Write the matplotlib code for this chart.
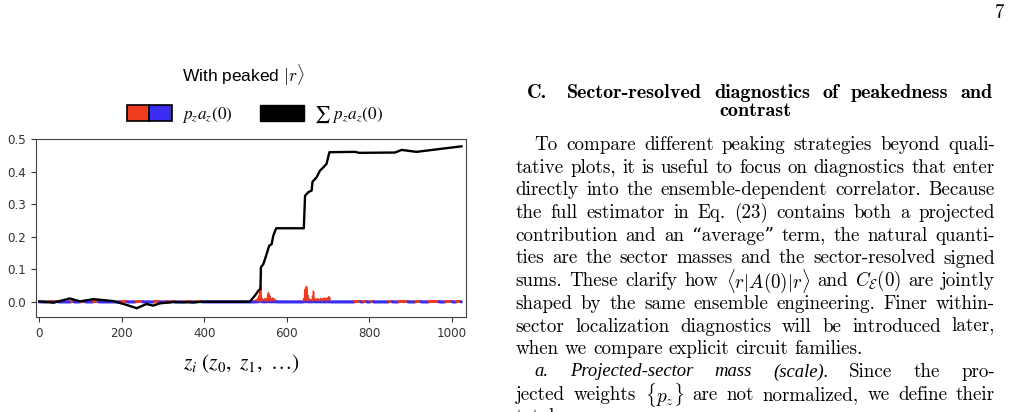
import numpy as np
import matplotlib
matplotlib.use('Agg')
import matplotlib.pyplot as plt
from matplotlib.patches import Patch
from matplotlib.legend_handler import HandlerTuple

# per-index signed values p_z a_z(0): the visible red spikes
spike_z = [522, 525, 528, 530, 532, 534, 535, 536, 537, 538, 540, 542, 545, 547, 550, 552, 554, 555,
           556, 558, 560, 562, 564, 566, 568, 570, 572, 575,
           641, 643, 644, 646, 648, 649, 651, 653, 656, 659, 662, 664, 665, 667, 670, 673, 676, 679,
           682, 685, 688, 691, 694, 697, 700, 702, 704]
spike_v = [0.004, 0.006, 0.008, 0.012, 0.018, 0.030, 0.045, 0.051, 0.040, 0.015, 0.010, 0.008, 0.006,
           0.010, 0.007, 0.012, 0.022, 0.029, 0.026, 0.020, 0.016, 0.010, 0.008, 0.012, 0.010, 0.008,
           0.006, 0.004,
           0.010, 0.030, 0.038, 0.044, 0.048, 0.040, 0.020, 0.010, 0.008, 0.006, 0.018, 0.033, 0.030,
           0.012, 0.008, 0.010, 0.009, 0.008, 0.011, 0.009, 0.010, 0.012, 0.009, 0.011, 0.013, 0.016,
           0.012]
# runs of tiny positive values (start, length); everything else is tiny negative
pos_runs = [(20, 12), (38, 8), (78, 6), (100, 12), (132, 12), (200, 14), (235, 16), (280, 12),
            (305, 6), (320, 8), (355, 12), (380, 14), (765, 14), (786, 8), (804, 6), (848, 8),
            (872, 22), (913, 12), (945, 24), (985, 16), (1012, 10)]
noise_amp = 0.0015

# running sum, read at breakpoints
cum_z = [0, 34, 74, 99, 131, 179, 212, 236, 260, 276, 292, 325, 373, 397, 510, 522, 531, 536, 537,
         543, 551, 557, 563, 567, 574, 641, 644, 652, 660, 662, 672, 680, 688, 696, 703, 765, 775,
         862, 878, 914, 971, 1023]
cum_v = [0.001, -0.003, 0.010, 0.001, 0.008, 0.002, -0.010, -0.020, -0.007, -0.012, -0.005, -0.001,
         -0.002, 0.0, 0.0, 0.018, 0.034, 0.040, 0.106, 0.116, 0.147, 0.172, 0.177, 0.203, 0.226,
         0.226, 0.326, 0.337, 0.342, 0.369, 0.383, 0.403, 0.413, 0.424, 0.460, 0.461, 0.458, 0.459,
         0.467, 0.461, 0.470, 0.478]

n_z = 1024
x_ticks = [0, 200, 400, 600, 800, 1000]
y_ticks = [0.0, 0.1, 0.2, 0.3, 0.4, 0.5]

RED = '#ef3b1f'
BLUE = '#3a2cf2'

body = [
    ("To compare different peaking strategies beyond quali-", True, True),
    ("tative plots, it is useful to focus on diagnostics that enter", False, True),
    ("directly into the ensemble-dependent correlator. Because", False, True),
    ("the full estimator in Eq. (23) contains both a projected", False, True),
    ("contribution and an \u201caverage\u201d term, the natural quanti-", False, True),
    ("ties are the sector masses and the sector-resolved signed", False, True),
    (r"sums. These clarify how $\langle{r}|A(0)|r\rangle$ and $C_{\mathcal{E}}(0)$ are jointly", False, True),
    ("shaped by the same ensemble engineering. Finer within-", False, True),
    ("sector localization diagnostics will be introduced later,", False, True),
    ("when we compare explicit circuit families.", False, False),
    ("a. Projected-sector mass (scale). Since the pro-", True, True),
    (r"jected weights $\{p_z\}$ are not normalized, we define their", False, True),
    ("total mass", False, False),
]
italic_words = ["a.", "Projected-sector", "mass", "(scale)."]

W, H = 1012, 412
fig = plt.figure(figsize=(W / 100, H / 100), dpi=100)
plt.rcParams['mathtext.fontset'] = 'cm'

def fx(px):
    return px / W

def fy(py):
    return 1 - py / H

vals = np.full(n_z, -noise_amp)
for s, l in pos_runs:
    vals[s:s + l] = noise_amp
for zz, vv in zip(spike_z, spike_v):
    vals[zz] = vv
cols = [RED if v > 0 else BLUE for v in vals]
lws = [1.3 if abs(v) <= noise_amp else 0.8 for v in vals]

ax = fig.add_axes([fx(36), fy(317), fx(466) - fx(36), fy(139) - fy(317)])
ax.bar(np.arange(n_z), vals, width=1.0, color=cols, edgecolor=cols, linewidth=lws, snap=False)
ax.plot(cum_z, cum_v, color='black', lw=1.7, zorder=3)
ax.set_xlim(-8, 1034)
ax.set_ylim(-0.047, 0.5006)
ax.set_xticks(x_ticks)
ax.set_yticks(y_ticks)
ax.set_yticklabels(['%.1f' % t for t in y_ticks])
ax.tick_params(labelsize=8.6, colors='#333333', length=3.5, width=0.8)
for sp in ax.spines.values():
    sp.set_color('#444444')
    sp.set_linewidth(0.8)

fig.text(fx(243), fy(75), r'With peaked $|r\rangle$', ha='center', va='center', fontsize=12.5,
         family='Liberation Sans', math_fontfamily='cm')
fig.text(fx(241), fy(364), r'$z_i\ (z_0,\ z_1,\ \ldots)$', ha='center', va='center',
         fontsize=15.5, math_fontfamily='stix')

h1 = (Patch(facecolor=RED, edgecolor='black', lw=1.2), Patch(facecolor=BLUE, edgecolor='black', lw=1.2))
h2 = Patch(facecolor='black', edgecolor='black')
leg = ax.legend([h1, h2], [r'$p_z a_z(0)$', r'$\sum\ p_z a_z(0)$'],
                handler_map={tuple: HandlerTuple(ndivide=None, pad=0)},
                loc='center', bbox_to_anchor=(0.51, 1.135), ncol=2, frameon=False,
                fontsize=12.3, handlelength=2.6, handleheight=1.05, handletextpad=0.6,
                columnspacing=1.6, borderaxespad=0)
for t in leg.get_texts():
    t.set_math_fontfamily('stix')

# right column of page text
renderer = fig.canvas.get_renderer()
serif = ['cmr10', 'DejaVu Serif']
bold = ['cmb10', 'DejaVu Serif']
left, right = 515.7, 995.0
indent = 19.0
y0, dy = 145.0, 22.7
fs = 13.7


def place_words(words, y, x_start, x_end, justify, make):
    texts = [make(w) for w in words]
    widths = [t.get_window_extent(renderer).width for t in texts]
    if justify and len(texts) > 1:
        gap = (x_end - x_start - sum(widths)) / (len(texts) - 1)
    else:
        gap = 6.0
    x = x_start
    for t, w in zip(texts, widths):
        t.set_position((fx(x), fy(y)))
        x += w + gap


for i, (line, ind, just) in enumerate(body):
    y = y0 + i * dy
    italic = line.startswith('a.')

    def make(w, italic=italic):
        if italic and w in italic_words:
            return fig.text(0, 0, w, fontsize=fs - 0.3, family='Liberation Serif',
                            style='italic', va='center')
        return fig.text(0, 0, w, fontsize=fs, family=serif, va='center')

    place_words(line.split(' '), y, left + (indent if ind else 0), right, just, make)

# section heading: "C." then the title words spread to the column edge
hs = 14.5
fig.text(fx(527), fy(93), 'C.', fontsize=hs, family=bold, va='center')
place_words(['Sector-resolved', 'diagnostics', 'of', 'peakedness', 'and'], 93, 567, 993, True,
            lambda w: fig.text(0, 0, w, fontsize=hs, family=bold, va='center'))
fig.text(fx(755), fy(111), 'contrast', ha='center', va='center', fontsize=hs, family=bold)
fig.text(fx(1000), fy(13), '7', ha='center', va='center', fontsize=fs, family=serif)

fig.savefig('out.png', dpi=100)
